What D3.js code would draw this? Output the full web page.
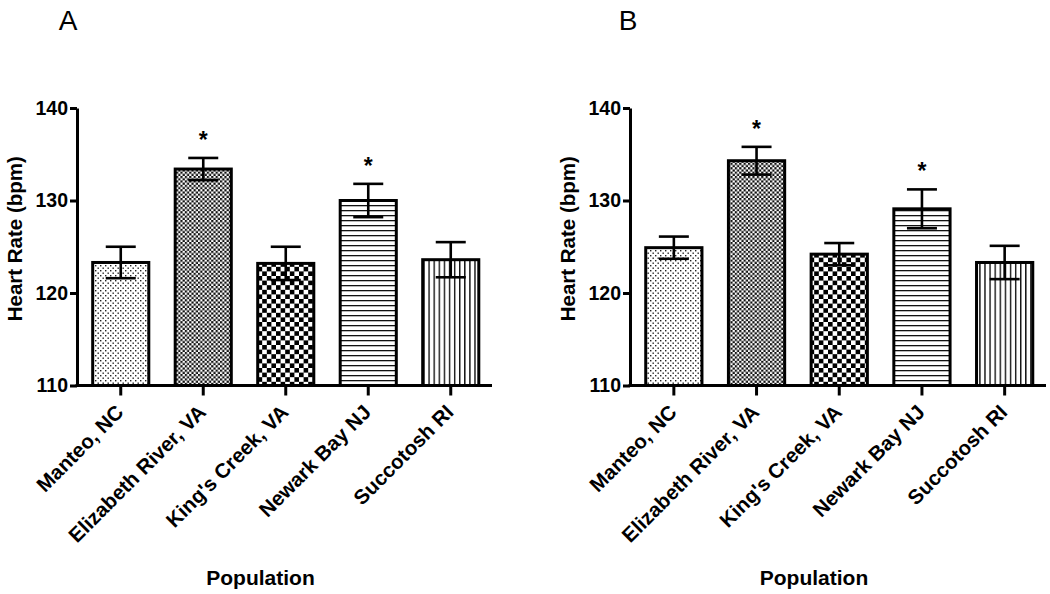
<!DOCTYPE html>
<html><head><meta charset="utf-8">
<script src="https://cdn.jsdelivr.net/npm/d3@7"></script>
<style>
html,body{margin:0;padding:0;background:#fff;}
text{font-family:"Liberation Sans",Arial,Helvetica,sans-serif;}
</style></head>
<body>
<svg id="chart" width="1050" height="594"></svg>
<script>
const categories = ["Manteo, NC", "Elizabeth River, VA", "King's Creek, VA", "Newark Bay NJ", "Succotosh RI"];
const meansA = [123.3, 133.4, 123.2, 130.0, 123.6];
const semA   = [1.7, 1.2, 1.8, 1.8, 1.9];
const meansB = [124.9, 134.3, 124.2, 129.1, 123.3];
const semB   = [1.2, 1.5, 1.2, 2.1, 1.8];
const sigA = ["", "*", "", "*", ""];
const sigB = ["", "*", "", "*", ""];
const yTicks = [110, 120, 130, 140];
const yDomain = [110, 140];
const panelLabels = ["A", "B"];
const yTitle = "Heart Rate (bpm)";
const xTitle = "Population";
const patternIds = ["pDots", "pFineCheck", "pCoarseCheck", "pHLines", "pVLines"];

const svg = d3.select("#chart");
const defs = svg.append("defs");

// sparse dots
let p = defs.append("pattern").attr("id","pDots").attr("patternUnits","userSpaceOnUse").attr("width",5).attr("height",5);
p.append("rect").attr("width",5).attr("height",5).attr("fill","#fff");
p.append("rect").attr("x",0).attr("y",0).attr("width",1.4).attr("height",1.4).attr("fill","#222");
p.append("rect").attr("x",2.5).attr("y",2.5).attr("width",1.4).attr("height",1.4).attr("fill","#222");
// fine checker
p = defs.append("pattern").attr("id","pFineCheck").attr("patternUnits","userSpaceOnUse").attr("width",4.4).attr("height",4.4);
p.append("rect").attr("width",4.4).attr("height",4.4).attr("fill","#fff");
p.append("rect").attr("x",0).attr("y",0).attr("width",2.2).attr("height",2.2).attr("fill","#111");
p.append("rect").attr("x",2.2).attr("y",2.2).attr("width",2.2).attr("height",2.2).attr("fill","#111");
// coarse checker
p = defs.append("pattern").attr("id","pCoarseCheck").attr("patternUnits","userSpaceOnUse").attr("width",9.2).attr("height",9.2);
p.append("rect").attr("width",9.2).attr("height",9.2).attr("fill","#fff");
p.append("rect").attr("x",0).attr("y",0).attr("width",4.6).attr("height",4.6).attr("fill","#000");
p.append("rect").attr("x",4.6).attr("y",4.6).attr("width",4.6).attr("height",4.6).attr("fill","#000");
// horizontal lines
p = defs.append("pattern").attr("id","pHLines").attr("patternUnits","userSpaceOnUse").attr("width",5).attr("height",5);
p.append("rect").attr("width",5).attr("height",5).attr("fill","#fff");
p.append("rect").attr("x",0).attr("y",0).attr("width",5).attr("height",1.3).attr("fill","#111");
// vertical lines
p = defs.append("pattern").attr("id","pVLines").attr("patternUnits","userSpaceOnUse").attr("width",5.1).attr("height",5);
p.append("rect").attr("width",5.1).attr("height",5).attr("fill","#fff");
p.append("rect").attr("x",0).attr("y",0).attr("width",1.4).attr("height",5).attr("fill","#111");

function panel(cfg) {
  const {axisX, xEnd, means, sems, sig, label, labelX} = cfg;
  const g = svg.append("g");
  const y = d3.scaleLinear().domain(yDomain).range([385.5, 108]);
  const x = d3.scaleBand().domain(categories).range([axisX + 2.5, xEnd]).paddingInner(0.32).paddingOuter(0.16);

  // bars
  g.selectAll("rect.bar").data(categories).join("rect")
    .attr("class","bar")
    .attr("x", d => x(d))
    .attr("width", x.bandwidth())
    .attr("y", (d,i) => y(means[i]))
    .attr("height", (d,i) => y(yDomain[0]) - y(means[i]))
    .attr("fill", (d,i) => `url(#${patternIds[i]})`)
    .attr("stroke","#000").attr("stroke-width",3);

  // error bars
  const capW = 30;
  const eb = g.selectAll("g.eb").data(categories).join("g").attr("class","eb");
  eb.append("line")
    .attr("x1", d => x(d) + x.bandwidth()/2).attr("x2", d => x(d) + x.bandwidth()/2)
    .attr("y1", (d,i) => y(means[i] + sems[i])).attr("y2", (d,i) => y(means[i] - sems[i]))
    .attr("stroke","#000").attr("stroke-width",2.6);
  [1, -1].forEach(s => {
    eb.append("line")
      .attr("x1", d => x(d) + x.bandwidth()/2 - capW/2).attr("x2", d => x(d) + x.bandwidth()/2 + capW/2)
      .attr("y1", (d,i) => y(means[i] + s*sems[i])).attr("y2", (d,i) => y(means[i] + s*sems[i]))
      .attr("stroke","#000").attr("stroke-width",2.6);
  });

  // significance
  g.selectAll("text.sig").data(categories).join("text")
    .attr("class","sig")
    .attr("x", d => x(d) + x.bandwidth()/2)
    .attr("y", (d,i) => y(means[i] + sems[i]) - 10)
    .attr("text-anchor","middle")
    .attr("font-size", 23).attr("font-weight","bold")
    .text((d,i) => sig[i]);

  // y axis
  const ya = g.append("g").attr("transform", `translate(${axisX},0)`)
    .call(d3.axisLeft(y).tickValues(yTicks).tickSize(7).tickSizeOuter(0).tickPadding(2).tickFormat(d3.format("d")));
  ya.select(".domain").attr("stroke-width",3).attr("stroke","#000");
  ya.selectAll(".tick line").attr("stroke-width",3).attr("stroke","#000");
  ya.selectAll(".tick text").attr("font-size",19.5).attr("font-weight","bold").attr("fill","#000")
    .attr("font-family","'Liberation Sans',Arial,sans-serif");

  // x axis
  const baseY = y(yDomain[0]);
  g.append("line").attr("x1", axisX - 1.5).attr("x2", xEnd).attr("y1", baseY).attr("y2", baseY)
    .attr("stroke","#000").attr("stroke-width",3);
  const xa = g.append("g").attr("transform", `translate(0,${baseY})`)
    .call(d3.axisBottom(x).tickSize(10).tickSizeOuter(0).tickFormat(""));
  xa.select(".domain").remove();
  xa.selectAll(".tick line").attr("stroke-width",3).attr("stroke","#000");

  // category labels
  g.selectAll("text.cat").data(categories).join("text")
    .attr("class","cat")
    .attr("transform", d => `translate(${x(d) + x.bandwidth()/2 + 4},${baseY + 28}) rotate(-45)`)
    .attr("text-anchor","end")
    .attr("font-size",20.5).attr("font-weight","bold")
    .text(d => d);

  // axis titles
  g.append("text")
    .attr("transform", `translate(${axisX - 55},${(y(yDomain[0]) + y(yDomain[1]))/2 - 8}) rotate(-90)`)
    .attr("text-anchor","middle").attr("font-size",20.5).attr("font-weight","bold")
    .text(yTitle);
  g.append("text")
    .attr("x", (axisX + xEnd)/2 - 24).attr("y", 585)
    .attr("text-anchor","middle").attr("font-size",21).attr("font-weight","bold")
    .text(xTitle);

  // panel label
  g.append("text").attr("x", labelX).attr("y", 30)
    .attr("text-anchor","middle").attr("font-size",28)
    .text(label);
}

panel({axisX: 77, xEnd: 492, means: meansA, sems: semA, sig: sigA, label: panelLabels[0], labelX: 68});
panel({axisX: 630, xEnd: 1046, means: meansB, sems: semB, sig: sigB, label: panelLabels[1], labelX: 628});
</script>
</body></html>
